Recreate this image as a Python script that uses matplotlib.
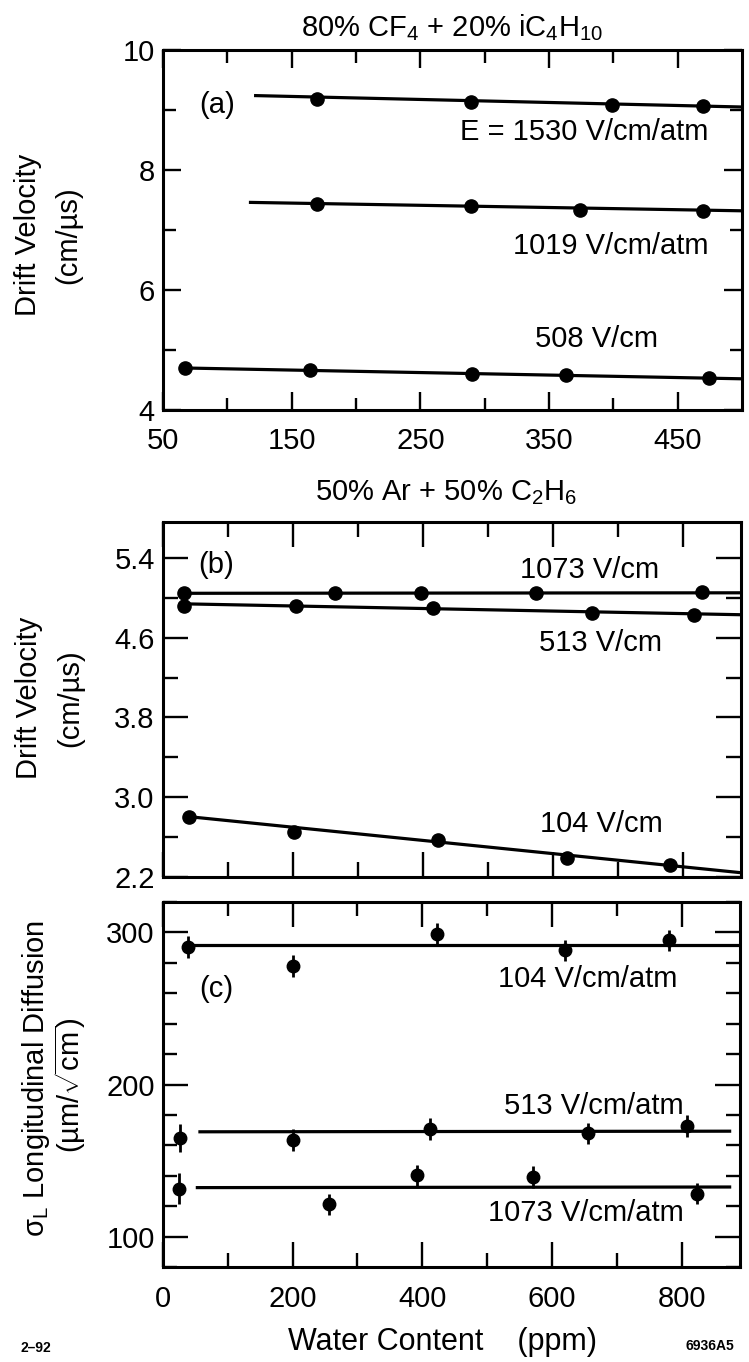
import numpy as np
import matplotlib
matplotlib.use("Agg")
import matplotlib.pyplot as plt
from matplotlib.ticker import MultipleLocator, FixedLocator

plt.rcParams['font.family'] = ['Liberation Sans', 'DejaVu Sans']
plt.rcParams['mathtext.fontset'] = 'custom'
plt.rcParams['mathtext.rm'] = 'Liberation Sans'
plt.rcParams['mathtext.it'] = 'Liberation Sans:italic'
plt.rcParams['mathtext.bf'] = 'Liberation Sans:bold'

# ---- panel (a): 80% CF4 + 20% iC4H10
a_x_1530 = [170, 289, 399, 470]
a_v_1530 = [9.19, 9.13, 9.09, 9.06]
a_fit_1530 = ([122, 500], [9.24, 9.05])

a_x_1019 = [170, 289, 374, 470]
a_v_1019 = [7.44, 7.40, 7.34, 7.32]
a_fit_1019 = ([118, 500], [7.46, 7.32])

a_x_508 = [67, 164, 290, 363, 474]
a_v_508 = [4.70, 4.66, 4.60, 4.58, 4.54]
a_fit_508 = ([67, 500], [4.70, 4.52])

# ---- panel (b): 50% Ar + 50% C2H6
b_x_1073 = [33, 265, 398, 574, 830]
b_v_1073 = [5.045, 5.045, 5.045, 5.05, 5.055]
b_fit_1073 = ([27, 890], [5.045, 5.05])

b_x_513 = [33, 205, 415, 660, 817]
b_v_513 = [4.92, 4.918, 4.90, 4.845, 4.83]
b_fit_513 = ([27, 890], [4.94, 4.83])

b_x_104 = [40, 202, 423, 622, 780]
b_v_104 = [2.80, 2.655, 2.575, 2.393, 2.316]
b_fit_104 = ([40, 890], [2.805, 2.243])

# ---- panel (c): longitudinal diffusion
c_x_104 = [38, 200, 423, 620, 780]
c_s_104 = [290.5, 278, 299, 288.2, 294.8]
c_e_104 = [7, 7, 7, 7, 7]
c_fit_104 = ([38, 888], [291.8, 291.8])

c_x_513 = [26, 200, 412, 655, 808]
c_s_513 = [164.8, 163.5, 170.7, 167.8, 172.8]
c_e_513 = [9, 7, 7, 7, 7]
c_fit_513 = ([57, 874], [168.9, 169.3])

c_x_1073 = [24, 256, 392, 571, 824]
c_s_1073 = [131.5, 121.3, 140.2, 139.1, 128.3]
c_e_1073 = [10, 7, 7, 7, 7]
c_fit_1073 = ([53, 874], [132.2, 132.6])

FS = 21
W, H = 749, 1362
fig = plt.figure(figsize=(W / 100, H / 100), dpi=100)


def add_axes(left, right, top, bottom):
    return fig.add_axes([left / W, 1 - bottom / H, (right - left) / W, (bottom - top) / H])


def px_text(x, y, s, **kw):
    # place text at reference pixel position
    fig.text(x / W, 1 - y / H, s, ha='center', va='center', **kw)


ax_a = add_axes(163, 742, 50, 410)
ax_b = add_axes(163, 741, 522, 877)
ax_c = add_axes(163, 740, 902, 1267)


def style(ax, major_len, minor_len, xpad):
    for s in ax.spines.values():
        s.set_linewidth(2.2)
    ax.tick_params(which='both', direction='in', top=True, right=True, width=1.7,
                   labelsize=FS)
    ax.tick_params(which='major', length=major_len)
    ax.tick_params(which='minor', length=minor_len)
    ax.tick_params(axis='x', which='major', pad=xpad)
    ax.tick_params(axis='y', which='major', pad=6)


def fit(ax, line):
    ax.plot(line[0], line[1], color='black', lw=2.3)


mk = dict(color='black', marker='o', ls='none', ms=9.5)

# panel a
for xs, vs, ln in [(a_x_1530, a_v_1530, a_fit_1530),
                   (a_x_1019, a_v_1019, a_fit_1019),
                   (a_x_508, a_v_508, a_fit_508)]:
    fit(ax_a, ln)
    ax_a.plot(xs, vs, **mk)
ax_a.set_xlim(50, 500)
ax_a.set_ylim(4, 10)
ax_a.xaxis.set_major_locator(FixedLocator([50, 150, 250, 350, 450]))
ax_a.xaxis.set_minor_locator(FixedLocator([100, 200, 300, 400]))
ax_a.yaxis.set_major_locator(MultipleLocator(2))
ax_a.yaxis.set_minor_locator(MultipleLocator(1))
style(ax_a, 13, 9, 12)
px_text(28, 235, 'Drift Velocity', rotation=90, fontsize=FS)
px_text(68, 235, '(cm/µs)', rotation=90, fontsize=FS)
ax_a.annotate('80% CF$_4$ + 20% iC$_4$H$_{10}$', xy=(0.5, 1), xycoords='axes fraction',
              xytext=(0, 16), textcoords='offset points', ha='center', va='center', fontsize=FS)
ax_a.text(92, 9.08, '(a)', fontsize=FS, ha='center', va='center')
ax_a.text(474, 8.63, 'E = 1530 V/cm/atm', fontsize=FS, ha='right', va='center')
ax_a.text(474, 6.73, '1019 V/cm/atm', fontsize=FS, ha='right', va='center')
ax_a.text(387, 5.18, '508 V/cm', fontsize=FS, ha='center', va='center')

# panel b
for xs, vs, ln in [(b_x_1073, b_v_1073, b_fit_1073),
                   (b_x_513, b_v_513, b_fit_513),
                   (b_x_104, b_v_104, b_fit_104)]:
    fit(ax_b, ln)
    ax_b.plot(xs, vs, **mk)
ax_b.set_xlim(0, 890)
ax_b.set_ylim(2.2, 5.76)
ax_b.xaxis.set_major_locator(MultipleLocator(200))
ax_b.xaxis.set_minor_locator(MultipleLocator(100))
ax_b.yaxis.set_major_locator(FixedLocator([2.2, 3.0, 3.8, 4.6, 5.4]))
ax_b.yaxis.set_minor_locator(FixedLocator([2.6, 3.4, 4.2, 5.0]))
ax_b.yaxis.set_major_formatter(plt.FormatStrFormatter('%.1f'))
style(ax_b, 18, 11, 12)
ax_b.tick_params(axis='x', labelbottom=False)
px_text(29, 698, 'Drift Velocity', rotation=90, fontsize=FS)
px_text(70, 698, '(cm/µs)', rotation=90, fontsize=FS)
ax_b.annotate('50% Ar + 50% C$_2$H$_6$', xy=(0.5, 1), xycoords='axes fraction',
              xytext=(-4, 21), textcoords='offset points', ha='center', va='center', fontsize=FS)
ax_b.text(82, 5.33, '(b)', fontsize=FS, ha='center', va='center')
ax_b.text(657, 5.277, '1073 V/cm', fontsize=FS, ha='center', va='center')
ax_b.text(673, 4.545, '513 V/cm', fontsize=FS, ha='center', va='center')
ax_b.text(675, 2.73, '104 V/cm', fontsize=FS, ha='center', va='center')

# panel c
for xs, ss, es, ln in [(c_x_104, c_s_104, c_e_104, c_fit_104),
                       (c_x_513, c_s_513, c_e_513, c_fit_513),
                       (c_x_1073, c_s_1073, c_e_1073, c_fit_1073)]:
    fit(ax_c, ln)
    ax_c.errorbar(xs, ss, yerr=es, fmt='o', color='black', ms=9, elinewidth=2, capsize=0)
ax_c.set_xlim(0, 890)
ax_c.set_ylim(80, 320)
ax_c.xaxis.set_major_locator(MultipleLocator(200))
ax_c.xaxis.set_minor_locator(MultipleLocator(100))
ax_c.yaxis.set_major_locator(MultipleLocator(100))
ax_c.yaxis.set_minor_locator(MultipleLocator(20))
style(ax_c, 18, 10, 13)
px_text(36, 1078, 'σ$_{\\rm L}$ Longitudinal Diffusion', rotation=90, fontsize=FS)
px_text(70, 1085, '(µm/$\\sqrt{\\rm cm}$)', rotation=90, fontsize=FS)
ax_c.text(82, 263, '(c)', fontsize=FS, ha='center', va='center')
ax_c.text(655, 269.6, '104 V/cm/atm', fontsize=FS, ha='center', va='center')
ax_c.text(664, 185.9, '513 V/cm/atm', fontsize=FS, ha='center', va='center')
ax_c.text(653, 115.2, '1073 V/cm/atm', fontsize=FS, ha='center', va='center')

px_text(442, 1342, 'Water Content    (ppm)', fontsize=22)
px_text(36, 1348, '2–92', fontsize=10, fontweight='bold')
px_text(710, 1346, '6936A5', fontsize=10, fontweight='bold')

fig.savefig('out.png', dpi=100)
